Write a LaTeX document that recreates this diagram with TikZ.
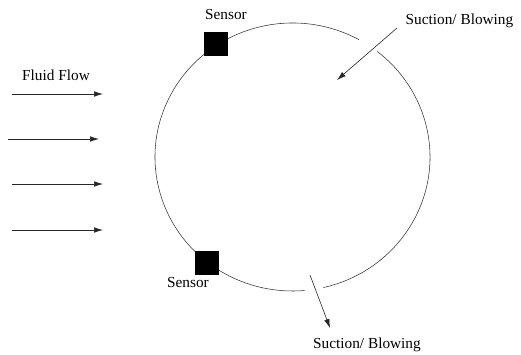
\documentclass[tikz,border=0pt]{standalone}
\usepackage{fontspec}
\setmainfont{Liberation Serif}
\usetikzlibrary{arrows.meta, calc}

\tikzset{
  lbl/.style={inner sep=0pt, font=\fontsize{15.3}{17}\selectfont},
  sensorbox/.style={draw=black, fill=black, minimum size=23pt, inner sep=0pt},
  flowarrow/.style={draw=black!85, line width=0.6pt, -{Latex[length=9pt,width=5.5pt]}},
  wall/.style={draw=black!80, line width=0.55pt}
}

\begin{document}
\begin{tikzpicture}[x=1pt,y=1pt]
  \path[use as bounding box] (0,0) rectangle (521,354);
  \coordinate (c) at (292.5,197);

  % cylinder wall, open at the two suction/blowing slots
  \draw[wall] ($(c)+(61:137.5 and 134)$) arc[start angle=61, end angle=275, x radius=137.5, y radius=134];
  \draw[wall] ($(c)+(283:137.5 and 134)$) arc[start angle=283, end angle=412, x radius=137.5, y radius=134];

  % sensors
  \node[sensorbox] (s1) at (215.5,310) {};
  \node[sensorbox] (s2) at (207,91) {};
  \node[lbl] (s1lbl) at (226,339) {Sensor};
  \node[lbl] (s2lbl) at (188,71) {Sensor};

  % suction / blowing
  \node[lbl] (sb1) at (459.5,333) {Suction/ Blowing};
  \node[lbl] (sb2) at (367,9) {Suction/ Blowing};
  \coordinate (sb1a) at (397,326);
  \coordinate (sb1b) at (337,274);
  \coordinate (sb2a) at (310,79);
  \coordinate (sb2b) at (330,26);
  \draw[flowarrow] (sb1a) -- (sb1b);
  \draw[flowarrow] (sb2a) -- (sb2b);

  % free stream
  \node[lbl] (ff) at (56,279) {Fluid Flow};
  \foreach \i/\xa/\yy in {1/12/260, 2/8/215, 3/12/170, 4/12/124} {
    \coordinate (fa\i) at (\xa,\yy);
    \coordinate (fb\i) at (\xa+91,\yy);
    \draw[flowarrow] (fa\i) -- (fb\i);
  }
\end{tikzpicture}
\end{document}
